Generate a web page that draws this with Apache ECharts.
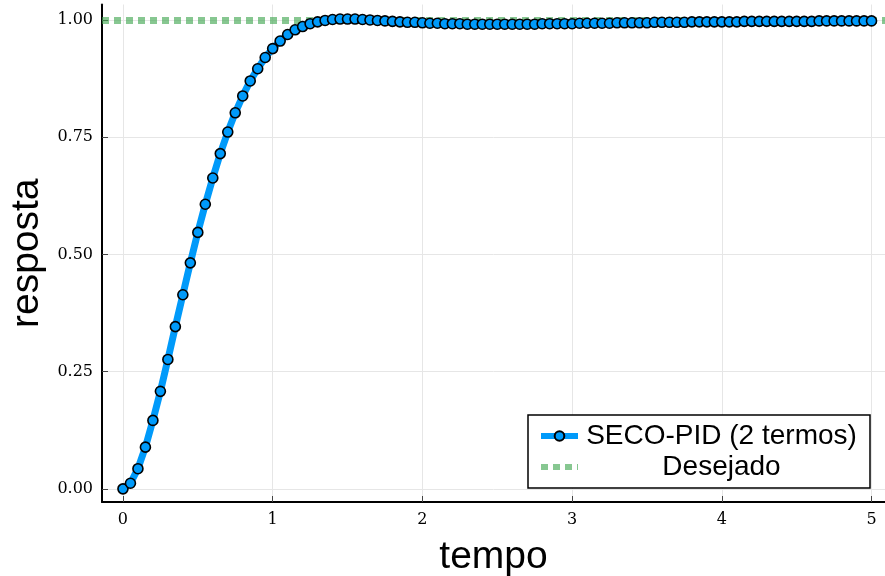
<!DOCTYPE html>
<html>
<head>
<meta charset="utf-8">
<script src="https://cdn.jsdelivr.net/npm/echarts@6/dist/echarts.min.js"></script>
<style>
html,body{margin:0;padding:0;background:#fff;}
#chart{width:885px;height:576px;}
</style>
</head>
<body>
<div id="chart"></div>
<script>
// ---- data ----
const tempo = [
  0.00,0.05,0.10,0.15,0.20,0.25,0.30,0.35,0.40,0.45,
  0.50,0.55,0.60,0.65,0.70,0.75,0.80,0.85,0.90,0.95,
  1.00,1.05,1.10,1.15,1.20,1.25,1.30,1.35,1.40,1.45,
  1.50,1.55,1.60,1.65,1.70,1.75,1.80,1.85,1.90,1.95,
  2.00,2.05,2.10,2.15,2.20,2.25,2.30,2.35,2.40,2.45,
  2.50,2.55,2.60,2.65,2.70,2.75,2.80,2.85,2.90,2.95,
  3.00,3.05,3.10,3.15,3.20,3.25,3.30,3.35,3.40,3.45,
  3.50,3.55,3.60,3.65,3.70,3.75,3.80,3.85,3.90,3.95,
  4.00,4.05,4.10,4.15,4.20,4.25,4.30,4.35,4.40,4.45,
  4.50,4.55,4.60,4.65,4.70,4.75,4.80,4.85,4.90,4.95,
  5.00
];
const resposta = [
  0.000,0.012,0.043,0.089,0.146,0.208,0.276,0.346,0.414,0.482,
  0.547,0.607,0.663,0.715,0.761,0.802,0.838,0.870,0.896,0.920,
  0.939,0.955,0.969,0.979,0.986,0.992,0.996,0.999,1.001,1.002,
  1.002,1.002,1.001,1.000,0.999,0.998,0.997,0.996,0.995,0.995,
  0.994,0.993,0.993,0.992,0.992,0.992,0.991,0.991,0.991,0.991,
  0.991,0.991,0.991,0.991,0.991,0.991,0.992,0.992,0.992,0.992,
  0.992,0.993,0.993,0.993,0.993,0.993,0.994,0.994,0.994,0.994,
  0.994,0.995,0.995,0.995,0.995,0.995,0.996,0.996,0.996,0.996,
  0.996,0.996,0.996,0.997,0.997,0.997,0.997,0.997,0.997,0.997,
  0.997,0.997,0.997,0.998,0.998,0.998,0.998,0.998,0.998,0.998,
  0.998
];
const desejado = [1.0];
const xTicks = [0, 1, 2, 3, 4, 5];
const yTicks = [0, 0.25, 0.5, 0.75, 1.0];
const seriesNames = ['SECO-PID (2 termos)', 'Desejado'];
const axisNames = ['tempo', 'resposta'];

// ---- chart ----
const chart = echarts.init(document.getElementById('chart'), null, {renderer: 'canvas'});
const blue = '#009AFA';
const green = 'rgba(62,164,78,0.62)';
const tickFont = {fontFamily: 'DejaVu Serif', fontSize: 16, color: '#000'};
const gridLine = {show: true, lineStyle: {color: '#e6e6e6', width: 1}};

const option = {
  animation: false,
  backgroundColor: '#fff',
  grid: {left: 102, right: 0, top: 4.5, bottom: 74, containLabel: false, outerBoundsMode: 'none'},
  xAxis: {
    type: 'value',
    min: -0.14, max: 5.09,
    name: axisNames[0],
    nameLocation: 'middle',
    nameGap: 36,
    nameTextStyle: {fontFamily: 'Liberation Sans', fontSize: 39, color: '#000'},
    axisLine: {show: true, onZero: false, lineStyle: {color: '#000', width: 2}},
    axisTick: {show: true, inside: true, length: 6, lineStyle: {color: '#444', width: 1}, customValues: xTicks},
    axisLabel: Object.assign({margin: 10, customValues: xTicks, formatter: v => String(v)}, tickFont),
    splitLine: gridLine
  },
  yAxis: {
    type: 'value',
    min: -0.028, max: 1.033,
    name: axisNames[1],
    nameLocation: 'middle',
    nameGap: 51,
    nameRotate: 90,
    nameTextStyle: {fontFamily: 'Liberation Sans', fontSize: 39, color: '#000'},
    axisLine: {show: true, onZero: false, lineStyle: {color: '#000', width: 2}},
    axisTick: {show: true, inside: true, length: 6, lineStyle: {color: '#444', width: 1}, customValues: yTicks},
    axisLabel: Object.assign({margin: 9, customValues: yTicks, formatter: v => v.toFixed(2)}, tickFont),
    splitLine: gridLine
  },
  legend: {
    left: 528, top: 415,
    orient: 'vertical',
    padding: [7, 10, 7, 10],
    itemGap: 3,
    itemWidth: 37, itemHeight: 12,
    backgroundColor: '#fff',
    borderColor: '#000', borderWidth: 1.5, borderRadius: 0,
    lineStyle: {width: 6},
    data: [
      {name: seriesNames[0]},
      {name: seriesNames[1], itemStyle: {opacity: 0}}
    ],
    formatter: name => '{c|' + name + '}',
    textStyle: {
      fontFamily: 'Liberation Sans', fontSize: 28, color: '#000',
      rich: {c: {fontFamily: 'Liberation Sans', fontSize: 28, color: '#000', width: 277, align: 'center', lineHeight: 30}}
    }
  },
  series: [
    {
      name: seriesNames[0],
      type: 'line',
      z: 5,
      data: tempo.map((t, i) => [t, resposta[i]]),
      symbol: 'circle',
      symbolSize: 10,
      showSymbol: true,
      lineStyle: {color: blue, width: 7},
      itemStyle: {color: blue, borderColor: '#000', borderWidth: 1.6},
      emphasis: {disabled: true}
    },
    {
      name: seriesNames[1],
      type: 'line',
      z: 1,
      data: [],
      symbol: 'none',
      lineStyle: {color: green, width: 7, type: [7, 5], cap: 'butt'},
      itemStyle: {color: green},
      markLine: {
        silent: true,
        symbol: ['none', 'none'],
        label: {show: false},
        lineStyle: {color: green, width: 7, type: [7, 5], cap: 'butt'},
        emphasis: {disabled: true},
        data: desejado.map(v => ({yAxis: v}))
      }
    }
  ]
};
chart.setOption(option);
</script>
</body>
</html>
